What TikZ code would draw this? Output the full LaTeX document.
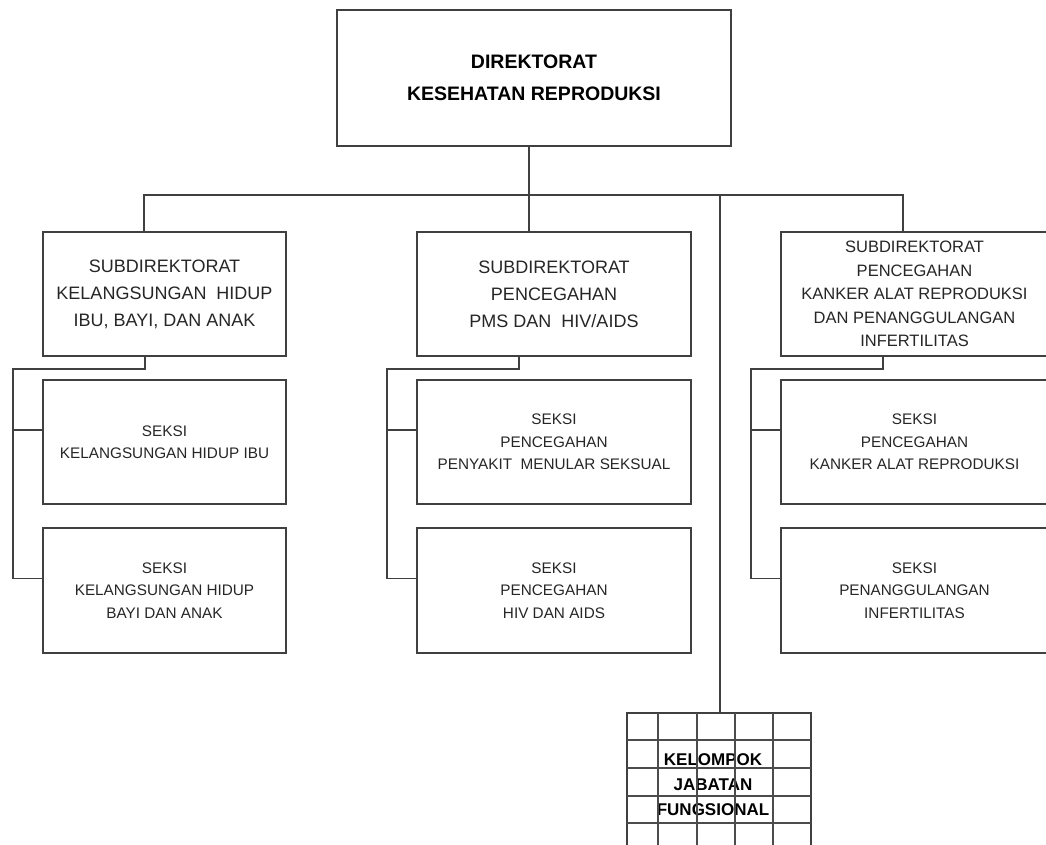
\documentclass[tikz,border=0pt]{standalone}
\usepackage{fontspec}
\setmainfont{Liberation Sans}
\begin{document}
\begin{tikzpicture}[x=1pt,y=-1pt,
  conn/.style={draw=black!75,line width=1.4pt},
  unit/.style={draw=black!75,line width=1.4pt,rectangle,inner sep=0pt,align=center,text=black!85},
  headbox/.style={unit,text=black,font=\fontsize{19.5}{32}\selectfont\bfseries},
  subbox/.style={unit,font=\fontsize{18}{27}\selectfont},
  subboxtall/.style={unit,font=\fontsize{16.5}{23.5}\selectfont},
  seksibox/.style={unit,font=\fontsize{15.3}{22.5}\selectfont},
  gridline/.style={draw=black!70,line width=1.5pt},
  gridtext/.style={align=center,inner sep=0pt,text=black,font=\fontsize{17}{25}\selectfont\bfseries}]
\useasboundingbox (0,0) rectangle (1046,845);
\clip (0,0) rectangle (1046,845);
\fill[white] (0,0) rectangle (1046,845);

% director
\node[headbox,minimum width=394pt,minimum height=136pt] (top) at (534,78)
  {DIREKTORAT\\KESEHATAN REPRODUKSI};

% sub-directorates
\node[subbox,minimum width=243pt,minimum height=124pt] (lsub) at (164.5,294)
  {SUBDIREKTORAT\\KELANGSUNGAN\ \ HIDUP\\IBU, BAYI,\ DAN ANAK};
\node[subbox,minimum width=274pt,minimum height=124pt] (msub) at (554,294)
  {SUBDIREKTORAT\\PENCEGAHAN\\PMS DAN\ \ HIV/AIDS};
\node[subboxtall,minimum width=267pt,minimum height=124pt] (rsub) at (914.5,294)
  {SUBDIREKTORAT\\PENCEGAHAN\\KANKER ALAT REPRODUKSI\\DAN PENANGGULANGAN\\INFERTILITAS};

% sections
\node[seksibox,minimum width=243pt,minimum height=124pt] (ls1) at (164.5,442)
  {SEKSI\\KELANGSUNGAN HIDUP IBU};
\node[seksibox,minimum width=243pt,minimum height=125pt] (ls2) at (164.5,590.5)
  {SEKSI\\KELANGSUNGAN HIDUP\\BAYI DAN ANAK};
\node[seksibox,minimum width=274pt,minimum height=124pt] (ms1) at (554,442)
  {SEKSI\\PENCEGAHAN\\PENYAKIT\ \ MENULAR SEKSUAL};
\node[seksibox,minimum width=274pt,minimum height=125pt] (ms2) at (554,590.5)
  {SEKSI\\PENCEGAHAN\\HIV DAN AIDS};
\node[seksibox,minimum width=267pt,minimum height=124pt] (rs1) at (914.5,442)
  {SEKSI\\PENCEGAHAN\\KANKER ALAT REPRODUKSI};
\node[seksibox,minimum width=267pt,minimum height=125pt] (rs2) at (914.5,590.5)
  {SEKSI\\PENANGGULANGAN\\INFERTILITAS};

% functional group: a gridded box
\node[draw=black!75,line width=1.5pt,rectangle,minimum width=184pt,minimum height=140pt,inner sep=0pt] (grid) at (719,783) {};
\node[gridtext] (gtext) at (713,785) {KELOMPOK\\JABATAN\\FUNGSIONAL};
\foreach \gx in {658,697,735,773} \draw[gridline] (\gx,713) -- (\gx,853);
\foreach \gy in {740,768,796,823} \draw[gridline] (627,\gy) -- (811,\gy);

% main bus
\coordinate (jL) at (144,195);
\coordinate (jT) at (529,195);
\coordinate (jF) at (720,195);
\coordinate (jR) at (903,195);
\draw[conn] (top.south -| jT) -- (msub.north -| jT);
\draw[conn] (lsub.north -| jL) -- (jL) -- (jR) -- (rsub.north -| jR);
\draw[conn] (jF) -- (grid.north -| jF);

% section branches, left
\coordinate (lA) at (145,369);
\coordinate (lX) at (13,369);
\coordinate (ls1b) at ([yshift=12pt]ls1.west);
\coordinate (ls2b) at ([yshift=12pt]ls2.west);
\draw[conn] (lsub.south -| lA) -- (lA) -- (lX) |- (ls2b);
\draw[conn] (ls1b -| lX) -- (ls1b);

% section branches, middle
\coordinate (mA) at (519,369);
\coordinate (mX) at (387,369);
\coordinate (ms1b) at ([yshift=12pt]ms1.west);
\coordinate (ms2b) at ([yshift=12pt]ms2.west);
\draw[conn] (msub.south -| mA) -- (mA) -- (mX) |- (ms2b);
\draw[conn] (ms1b -| mX) -- (ms1b);

% section branches, right
\coordinate (rA) at (883,369);
\coordinate (rX) at (751,369);
\coordinate (rs1b) at ([yshift=12pt]rs1.west);
\coordinate (rs2b) at ([yshift=12pt]rs2.west);
\draw[conn] (rsub.south -| rA) -- (rA) -- (rX) |- (rs2b);
\draw[conn] (rs1b -| rX) -- (rs1b);
\end{tikzpicture}
\end{document}
